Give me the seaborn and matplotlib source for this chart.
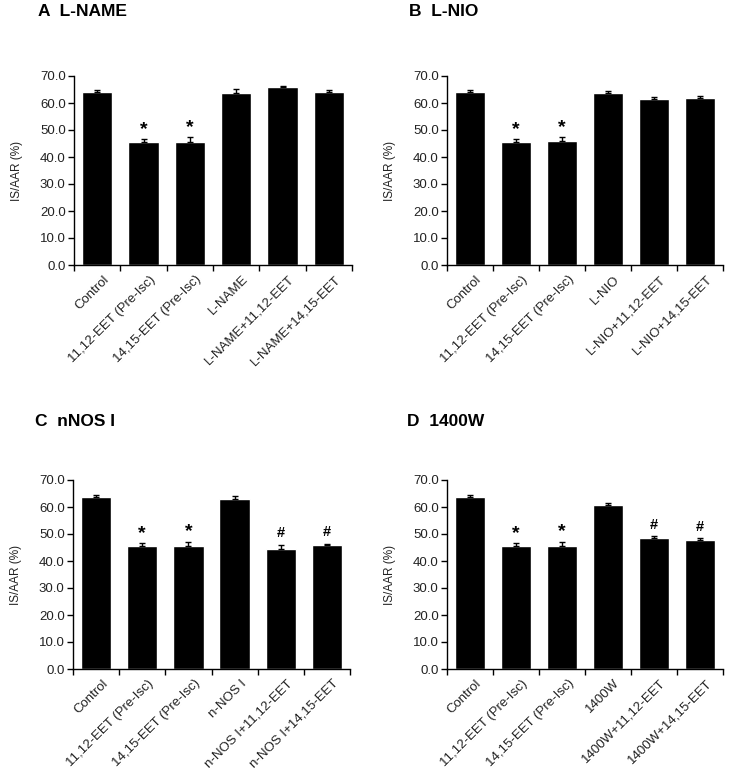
"""
NOS阻害剤とEETの梗塞サイズ比較（4パネル棒グラフ）
"""
import numpy as np
import pandas as pd
import matplotlib
matplotlib.use("Agg")
import matplotlib.pyplot as plt
import matplotlib.transforms as mtransforms
import seaborn as sns

# データ
common_groups = ["Control", "11,12-EET (Pre-Isc)", "14,15-EET (Pre-Isc)"]

groups_a = common_groups + ["L-NAME", "L-NAME+11,12-EET", "L-NAME+14,15-EET"]
means_a = [64.0, 45.5, 45.5, 63.7, 65.8, 64.0]
sems_a = [0.7, 1.1, 1.8, 1.4, 0.6, 1.0]
marks_a = ["", "*", "*", "", "", ""]

groups_b = common_groups + ["L-NIO", "L-NIO+11,12-EET", "L-NIO+14,15-EET"]
means_b = [64.0, 45.5, 45.9, 63.6, 61.5, 61.9]
sems_b = [1.0, 1.1, 1.4, 1.0, 0.6, 0.6]
marks_b = ["", "*", "*", "", "", ""]

groups_c = common_groups + ["n-NOS I", "n-NOS I+11,12-EET", "n-NOS I+14,15-EET"]
means_c = [63.8, 45.4, 45.4, 62.8, 44.3, 46.1]
sems_c = [0.7, 1.1, 1.8, 1.1, 1.8, 0.3]
marks_c = ["", "*", "*", "", "#", "#"]

groups_d = common_groups + ["1400W", "1400W+11,12-EET", "1400W+14,15-EET"]
means_d = [63.8, 45.4, 45.4, 60.6, 48.7, 47.8]
sems_d = [0.7, 1.1, 1.8, 0.7, 0.6, 0.7]
marks_d = ["", "*", "*", "", "#", "#"]

panel_titles = ["A  L-NAME", "B  L-NIO", "C  nNOS I", "D  1400W"]
y_ticks = [0, 10, 20, 30, 40, 50, 60, 70]
y_label = "IS/AAR (%)"

sns.set_theme(style="ticks")
plt.rcParams["font.family"] = ["Liberation Sans", "DejaVu Sans"]

TEXT_COLOR = "#222222"


def draw_panel(fig, rect, groups, means, sems, marks):
    """1パネル分の棒グラフを描く"""
    ax = fig.add_axes(rect)
    df = pd.DataFrame({"group": groups, "value": means, "sem": sems})

    sns.barplot(data=df, x="group", y="value", color="black",
                width=0.66, errorbar=None, saturation=1, ax=ax)

    # 上側のみのエラーバー
    xs = np.arange(len(groups))
    ax.errorbar(xs, df["value"], yerr=[np.zeros(len(xs)), df["sem"]],
                fmt="none", ecolor="black", elinewidth=1.0,
                capsize=2.5, capthick=1.0)

    # 有意差マーク
    for x, m, s, mk in zip(xs, means, sems, marks):
        if mk == "*":
            ax.text(x, m + s + 3.6, mk, ha="center", va="center",
                    fontsize=14, fontweight="bold", color="black")
        elif mk == "#":
            ax.text(x, m + s + 4.2, mk, ha="center", va="center",
                    fontsize=10.5, fontweight="bold", color="black")

    ax.set_xlim(-0.5, len(groups) - 0.5)
    ax.set_ylim(0, 70)
    ax.set_yticks(y_ticks)
    ax.set_yticklabels([f"{v:.1f}" for v in y_ticks], fontsize=9.5,
                       color=TEXT_COLOR)

    # 目盛はカテゴリの境界に、ラベルは中央に
    ax.set_xticks(xs)
    ax.set_xticks(np.arange(len(groups) + 1) - 0.5, minor=True)
    ax.tick_params(axis="x", which="major", length=0, pad=2)
    ax.tick_params(axis="x", which="minor", length=4, width=1,
                   direction="out", color="black")
    ax.tick_params(axis="y", length=4, width=1, direction="out",
                   color="black", pad=2)
    ax.set_xticklabels(groups, rotation=45, ha="right", va="top",
                       rotation_mode="anchor", fontsize=9.5,
                       color=TEXT_COLOR)
    offset = mtransforms.ScaledTranslation(4 / 72, -4 / 72,
                                           fig.dpi_scale_trans)
    for lbl in ax.get_xticklabels():
        lbl.set_transform(lbl.get_transform() + offset)

    ax.set_xlabel("")
    ax.set_ylabel(y_label, fontsize=8.5, color=TEXT_COLOR, labelpad=12)

    sns.despine(ax=ax)
    for sp in ["left", "bottom"]:
        ax.spines[sp].set_color("black")
        ax.spines[sp].set_linewidth(1.0)
    return ax


fig = plt.figure(figsize=(7.29, 7.76), dpi=100)
fig.patch.set_facecolor("white")

W, H = 729, 776
rects = [
    (74 / W, 1 - 265 / H, 278 / W, 189 / H),
    (447 / W, 1 - 265 / H, 276 / W, 189 / H),
    (73 / W, 1 - 669 / H, 277 / W, 189 / H),
    (447 / W, 1 - 669 / H, 276 / W, 189 / H),
]
panels = [
    (groups_a, means_a, sems_a, marks_a),
    (groups_b, means_b, sems_b, marks_b),
    (groups_c, means_c, sems_c, marks_c),
    (groups_d, means_d, sems_d, marks_d),
]
title_pos = [(38, 12), (409, 12), (35, 422), (407, 422)]

for rect, title, (g, m, s, mk), (tx, ty) in zip(rects, panel_titles,
                                                 panels, title_pos):
    draw_panel(fig, rect, g, m, s, mk)
    fig.text(tx / W, 1 - ty / H, title, ha="left", va="center",
             fontsize=12.5, fontweight="bold", color="black")

plt.savefig("out.png", dpi=100)
plt.close()
